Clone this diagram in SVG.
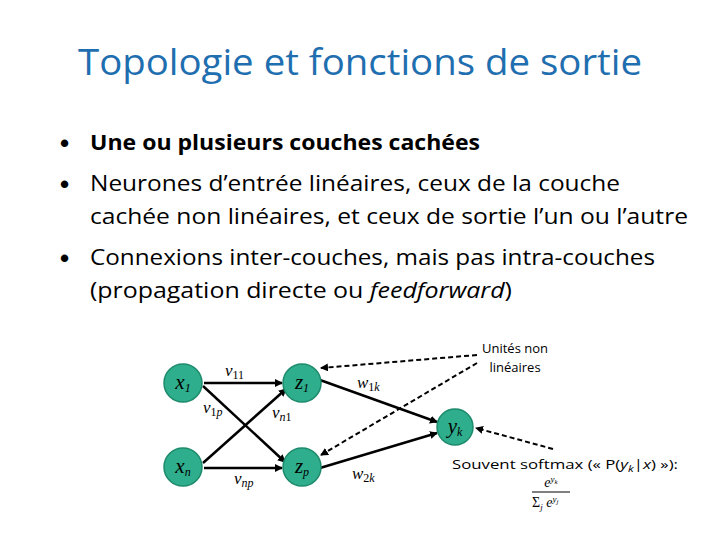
<svg xmlns="http://www.w3.org/2000/svg" width="720" height="540" viewBox="0 0 720 540">
<style>
.t{font-family:"Open Sans","Liberation Sans",sans-serif;fill:#000}
.b{font-size:22px}
.bu{font-family:"Liberation Sans",sans-serif;font-size:26px;font-weight:bold}
.n{fill:#2eae8c;stroke:#1d8a6c;stroke-width:1.5}
.lab{font-family:"Liberation Serif",serif;font-style:italic;font-size:21px;fill:#000}
.w{font-family:"Liberation Serif",serif;font-style:italic;font-size:17px;fill:#000}
.sub{font-size:12px}
.up{font-style:normal}
.e{stroke:#000;stroke-width:2.5;fill:none;marker-end:url(#ar)}
.d{stroke:#000;stroke-width:2;stroke-dasharray:5,3;fill:none;marker-end:url(#ar)}
</style>
<defs><marker id="ar" markerWidth="8" markerHeight="8" refX="7" refY="4" orient="auto" markerUnits="userSpaceOnUse"><path d="M0,0L8,4L0,8z" fill="#000"/></marker></defs>
<rect width="720" height="540" fill="#fff"/>
<text class="t" x="360" y="75" text-anchor="middle" font-size="36" style="fill:#1f6fb0" textLength="564" lengthAdjust="spacingAndGlyphs">Topologie et fonctions de sortie</text>
<g class="t b">
<text class="bu" x="60" y="152">•</text><text x="90" y="150" font-weight="bold" textLength="390" lengthAdjust="spacingAndGlyphs">Une ou plusieurs couches cachées</text>
<text class="bu" x="60" y="193">•</text><text x="90" y="191" textLength="530" lengthAdjust="spacingAndGlyphs">Neurones d’entrée linéaires, ceux de la couche</text>
<text x="90" y="224" textLength="598" lengthAdjust="spacingAndGlyphs">cachée non linéaires, et ceux de sortie l’un ou l’autre</text>
<text class="bu" x="60" y="267">•</text><text x="90" y="265" textLength="565" lengthAdjust="spacingAndGlyphs">Connexions inter-couches, mais pas intra-couches</text>
<text x="90" y="298" textLength="422" lengthAdjust="spacingAndGlyphs">(propagation directe ou <tspan font-style="italic">feedforward</tspan>)</text>
</g>
<g id="connectors">
<line class="e" x1="204" y1="383" x2="282" y2="383"/>
<line class="e" x1="203" y1="386" x2="285" y2="462"/>
<line class="e" x1="203" y1="463" x2="286" y2="389"/>
<line class="e" x1="204" y1="468" x2="282" y2="468"/>
<line class="e" x1="320" y1="380" x2="437" y2="422"/>
<line class="e" x1="320" y1="468" x2="437" y2="433"/>
<line class="d" x1="477" y1="355" x2="321" y2="368"/>
<line class="d" x1="477" y1="363" x2="321" y2="455"/>
<line class="d" x1="553" y1="449" x2="476" y2="428"/>
<text class="w" x="225" y="376">v<tspan class="sub up" dy="3">11</tspan></text>
<text class="w" x="203" y="413">v<tspan class="sub" dy="3"><tspan class="up">1</tspan>p</tspan></text>
<text class="w" x="272" y="418">v<tspan class="sub" dy="3">n<tspan class="up">1</tspan></tspan></text>
<text class="w" x="234" y="484">v<tspan class="sub" dy="3">np</tspan></text>
<text class="w" x="357" y="388">w<tspan class="sub" dy="3"><tspan class="up">1</tspan>k</tspan></text>
<text class="w" x="352" y="479">w<tspan class="sub" dy="3"><tspan class="up">2</tspan>k</tspan></text>
</g>
<g id="x1"><circle class="n" cx="183" cy="383" r="19"/><text class="lab" x="183" y="389" text-anchor="middle">x<tspan class="sub" dy="3">1</tspan></text></g>
<g id="xn"><circle class="n" cx="183" cy="467" r="19"/><text class="lab" x="183" y="473" text-anchor="middle">x<tspan class="sub" dy="3">n</tspan></text></g>
<g id="z1"><circle class="n" cx="302" cy="383" r="19"/><text class="lab" x="302" y="389" text-anchor="middle">z<tspan class="sub" dy="3">1</tspan></text></g>
<g id="zp"><circle class="n" cx="302" cy="467" r="19"/><text class="lab" x="302" y="473" text-anchor="middle">z<tspan class="sub" dy="3">p</tspan></text></g>
<g id="yk"><circle class="n" cx="455" cy="427" r="18"/><text class="lab" x="455" y="433" text-anchor="middle">y<tspan class="sub" dy="3">k</tspan></text></g>
<g id="note1" class="t" font-size="13"><text x="515" y="353" text-anchor="middle">Unités non</text><text x="515" y="372" text-anchor="middle">linéaires</text></g>
<g id="note2">
<text class="t" x="452" y="469" font-size="13" textLength="226" lengthAdjust="spacingAndGlyphs">Souvent softmax  (« P(<tspan font-style="italic">y</tspan><tspan font-size="9" dy="3" font-style="italic">k</tspan><tspan dy="-3">|</tspan><tspan font-style="italic">x</tspan>) »):</text>
<text x="551" y="487" font-family="Liberation Serif,serif" font-style="italic" font-size="14" text-anchor="middle">e<tspan font-size="9" dy="-5">y</tspan><tspan font-size="7" dy="2">k</tspan></text>
<line x1="532" y1="492" x2="570" y2="492" stroke="#000" stroke-width="1"/>
<text x="532" y="507" font-family="Liberation Serif,serif" font-size="14">Σ<tspan font-style="italic" font-size="9" dy="3">j</tspan><tspan font-style="italic" dy="-3"> e</tspan><tspan font-style="italic" font-size="9" dy="-5">y</tspan><tspan font-style="italic" font-size="7" dy="2">j</tspan></text>
</g>
</svg>
